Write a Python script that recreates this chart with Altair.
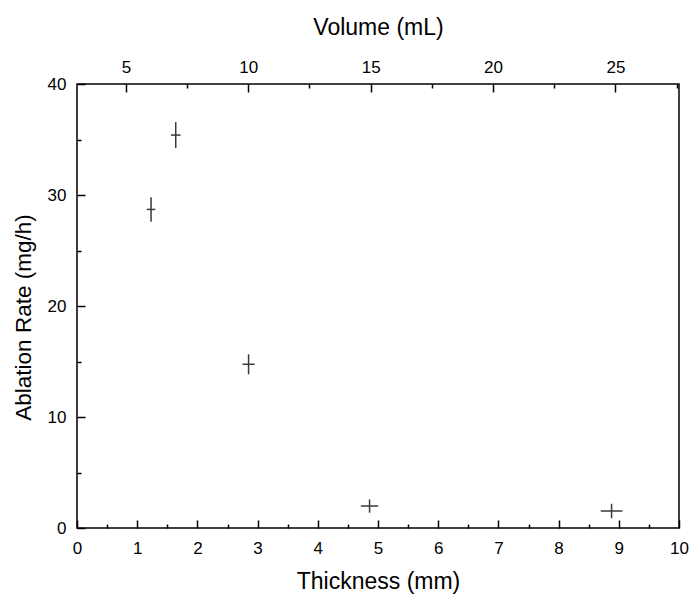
import altair as alt
import pandas as pd

# ---- data ----
thickness = [1.23, 1.64, 2.85, 4.86, 8.88]          # mm
thickness_err = [0.07, 0.08, 0.10, 0.145, 0.18]     # mm
rate = [28.7, 35.4, 14.75, 1.98, 1.53]              # mg/h
rate_err = [1.1, 1.17, 0.9, 0.6, 0.65]              # mg/h

x_major = [0, 1, 2, 3, 4, 5, 6, 7, 8, 9, 10]
x_minor = [0.5, 1.5, 2.5, 3.5, 4.5, 5.5, 6.5, 7.5, 8.5, 9.5]
y_major = [0, 10, 20, 30, 40]
y_minor = [5, 15, 25, 35]
vol_major = [5, 10, 15, 20, 25]
vol_minor = [7.5, 12.5, 17.5, 22.5, 27.5]

x_domain = [0, 10]
y_domain = [0, 40]
vol_domain = [3, 27.6]

FONT = "Liberation Sans"
MAJ = 8
MIN = 4
ERR_COLOR = "#3a3a3a"

df = pd.DataFrame({"t": thickness, "te": thickness_err, "r": rate, "re": rate_err})
base = alt.Chart(df).transform_calculate(
    t_lo="datum.t - datum.te", t_hi="datum.t + datum.te",
    r_lo="datum.r - datum.re", r_hi="datum.r + datum.re",
)


def axis(orient, values, size, labels=True, title=None, **kw):
    args = dict(
        orient=orient, values=values, tickSize=size, offset=-size, domain=False,
        grid=False, labels=labels, ticks=True, tickColor="black", tickWidth=1.5,
        labelFont=FONT, labelFontSize=17, labelColor="black", labelFlush=False,
        labelOverlap=False,
        titleFont=FONT, titleFontSize=23, titleFontWeight="normal", titleColor="black",
    )
    args["title"] = title
    args.update(kw)
    return alt.Axis(**args)


xs = alt.Scale(domain=x_domain, nice=False, zero=False)
ys = alt.Scale(domain=y_domain, nice=False, zero=False)
vs = alt.Scale(domain=vol_domain, nice=False, zero=False)

# horizontal error bars (carry the major bottom/left axes)
xerr = base.mark_rule(color=ERR_COLOR, strokeWidth=1.5).encode(
    x=alt.X("t_lo:Q", scale=xs,
            axis=axis("bottom", x_major, MAJ, title="Thickness (mm)",
                      labelPadding=12, titlePadding=14, format="d")),
    x2="t_hi:Q",
    y=alt.Y("r:Q", scale=ys,
            axis=axis("left", y_major, MAJ, title="Ablation Rate (mg/h)",
                      labelPadding=11, titlePadding=12, titleY=233,
                      titleFontSize=22.5, format="d")),
)

# vertical error bars (carry the minor bottom/left axes)
yerr = base.mark_rule(color=ERR_COLOR, strokeWidth=1.5).encode(
    x=alt.X("t:Q", scale=xs, axis=axis("bottom", x_minor, MIN, labels=False)),
    y=alt.Y("r_lo:Q", scale=ys, axis=axis("left", y_minor, MIN, labels=False)),
    y2="r_hi:Q",
)

# top volume axis, major ticks
top_major = alt.Chart(pd.DataFrame({"v": vol_major})).mark_point(opacity=0).encode(
    x=alt.X("v:Q", scale=vs,
            axis=axis("top", vol_major, MAJ, title="Volume (mL)",
                      labelPadding=8, titlePadding=19, format="d")),
    y=alt.value(0),
)

# top volume axis, minor ticks
top_minor = alt.Chart(pd.DataFrame({"v": vol_minor})).mark_point(opacity=0).encode(
    x=alt.X("v:Q", scale=vs, axis=axis("top", vol_minor, MIN, labels=False)),
    y=alt.value(0),
)

chart = alt.layer(xerr, yerr, top_major, top_minor).resolve_scale(
    x="independent", y="independent"
).resolve_axis(
    x="independent", y="independent"
).properties(
    width=602, height=444,
    autosize=alt.AutoSizeParams(type="none"),
    padding={"left": 77, "top": 84, "right": 10, "bottom": 66},
    background="white",
).configure_view(
    stroke="black", strokeWidth=1.5
)

chart.save("out.html", embed_options={"renderer": "svg", "actions": False})
